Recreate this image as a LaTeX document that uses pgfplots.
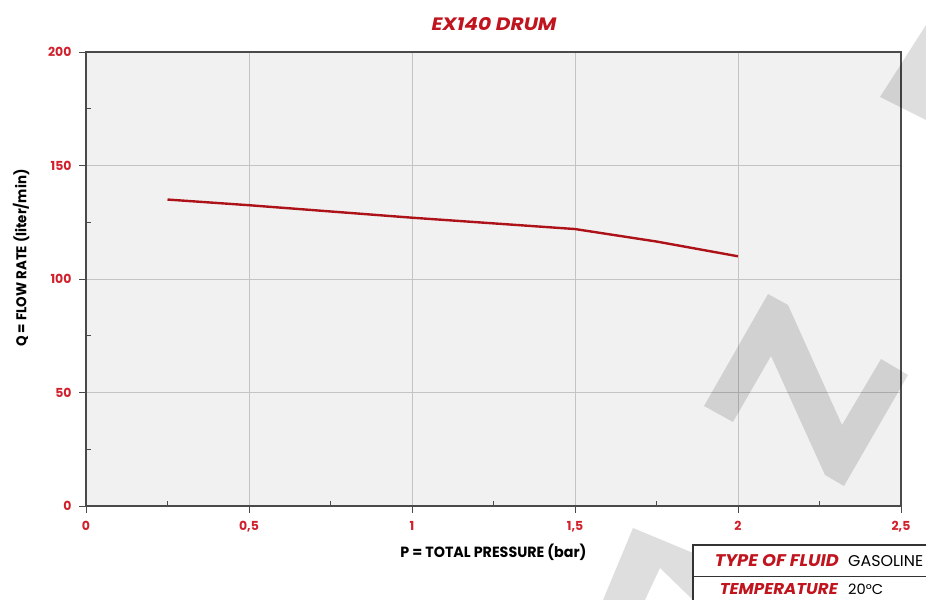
\documentclass[border=0pt]{standalone}
\usepackage{pgfplots}
\pgfplotsset{compat=1.18}
\usepackage{fontspec}
\setmainfont{Poppins}
\usepackage{graphicx}
\definecolor{tickred}{HTML}{D0202C}
\definecolor{titlered}{HTML}{C0141E}
\definecolor{linered}{HTML}{AE1219}
\definecolor{plotbg}{HTML}{F1F1F1}
\definecolor{gridgray}{HTML}{C4C4C4}
\definecolor{axisgray}{HTML}{4A4A4A}
\begin{document}
\begin{tikzpicture}[x=1bp,y=1bp]
\useasboundingbox (0,0) rectangle (926,600);
\begin{axis}[
  at={(86bp,94bp)}, anchor=south west,
  scale only axis, width=815bp, height=454bp,
  xmin=0, xmax=2.5, ymin=0, ymax=200,
  axis background/.style={fill=plotbg},
  axis line style={draw=axisgray, line width=1.6bp},
  xtick={0,0.5,1,1.5,2,2.5},
  xticklabels={0,{0,5},1,{1,5},2,{2,5}},
  ytick={0,50,100,150,200},
  xtick pos=bottom, ytick pos=left,
  tick align=outside,
  major tick length=7bp,
  tick style={draw=axisgray, line width=0.8bp},
  extra x ticks={0.25,0.75,1.25,1.75,2.25},
  extra x tick labels={},
  extra x tick style={tick align=inside, major tick length=5bp, grid=none},
  extra y ticks={25,75,125,175},
  extra y tick labels={},
  extra y tick style={tick align=inside, major tick length=5bp, grid=none},
  grid=major,
  major grid style={draw=gridgray, line width=0.9bp},
  tick label style={font=\fontsize{12.5}{14}\selectfont\bfseries, text=tickred},
  /pgf/number format/assume math mode=true,
  yticklabel style={xshift=-4bp},
  xticklabel style={yshift=-5bp},
]
\addplot[color=linered, line width=2.4bp] coordinates {
  (0.25,135) (0.5,132.5) (1,127) (1.5,122) (1.75,116.5) (2,110)
};
\end{axis}
% title
\node at (494,576) {\resizebox{125bp}{13bp}{\color{titlered}\bfseries\itshape EX140 DRUM}};
% axis labels
\node at (493.5,48) {\resizebox{186bp}{13.5bp}{\bfseries P = TOTAL PRESSURE (bar)}};
\node[rotate=90] at (21,342) {\resizebox{177bp}{13.5bp}{\bfseries Q = FLOW RATE (liter/min)}};
% watermark
\fill[black, opacity=0.13] (704,194) -- (768,306) -- (788,295) -- (842,175) -- (881,241) -- (908,225) -- (844,114) -- (825,125) -- (771,244) -- (733,178) -- cycle;
\fill[black, opacity=0.13] (880,503) -- (926,575) -- (926,480) -- cycle;
\fill[black, opacity=0.13] (603,0) -- (633,72) -- (710,40) -- (710,0) -- (693,0) -- (660,32) -- (645,0) -- cycle;
% table
\fill[white] (693,0) rectangle (926,55);
\draw[draw=black!80, line width=1.3bp] (926,55) -- (693,55) -- (693,0);
\draw[draw=black!80, line width=1bp] (693,23) -- (926,23);
\node[anchor=base east, inner sep=0] at (839,33) {\resizebox{124bp}{12bp}{\color{titlered}\bfseries\itshape TYPE OF FLUID}};
\node[anchor=base west, inner sep=0] at (848,33) {\resizebox{75bp}{11bp}{GASOLINE}};
\node[anchor=base east, inner sep=0] at (838,5) {\resizebox{118bp}{11bp}{\color{titlered}\bfseries\itshape TEMPERATURE}};
\node[anchor=base west, inner sep=0] at (848,5) {\resizebox{35bp}{10.5bp}{20°C}};
\end{tikzpicture}
\end{document}
